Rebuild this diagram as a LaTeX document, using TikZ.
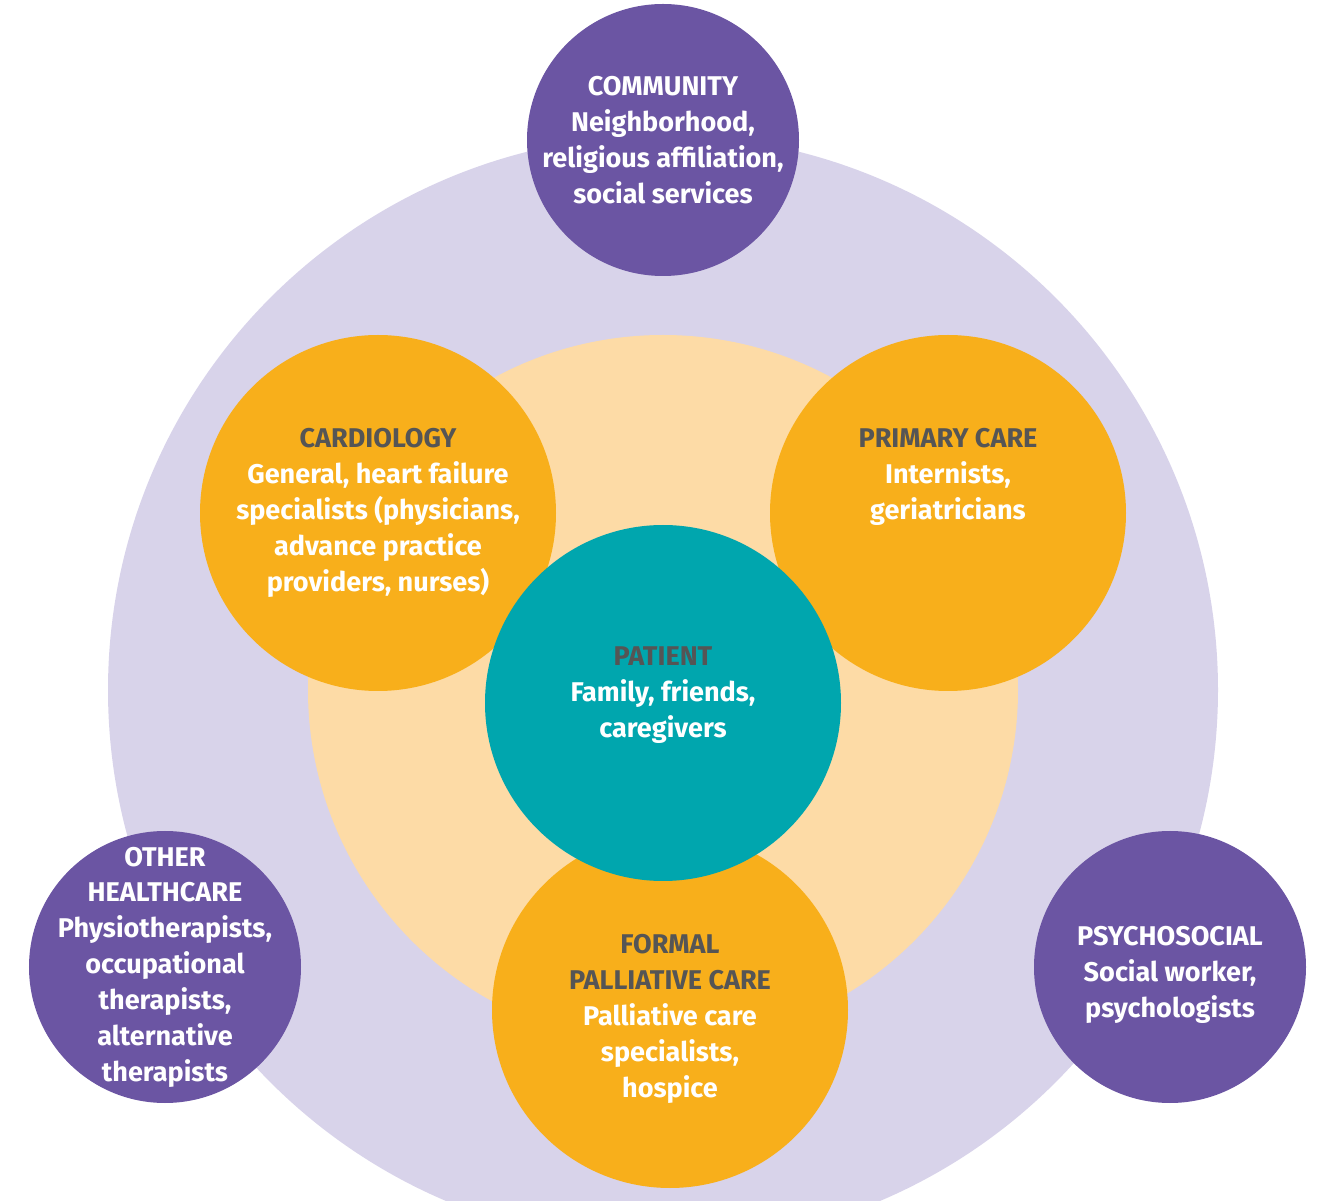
\documentclass[tikz,border=0pt]{standalone}
\usepackage{fontspec}
\setmainfont{Fira Sans}
\usetikzlibrary{positioning}
\definecolor{lavender}{HTML}{D8D3EA}
\definecolor{peach}{HTML}{FDDBA6}
\definecolor{amber}{HTML}{F8AF1B}
\definecolor{tealc}{HTML}{00A6AE}
\definecolor{violet}{HTML}{6B55A3}
\definecolor{darkgray}{HTML}{555555}
\tikzset{
  ring node/.style={circle,draw=none,inner sep=0pt},
  care node/.style={circle,fill=amber,minimum size=3.56cm,inner sep=0pt},
  outer node/.style={circle,fill=violet,minimum size=2.72cm,inner sep=0pt},
  label text/.style={align=center,text=white,inner sep=0pt,
    font=\fontsize{7.7}{10.2}\selectfont\bfseries},
  head/.style={text=darkgray}
}
\begin{document}
\begin{tikzpicture}
            \useasboundingbox (0,0) rectangle (13.27,12);
            \clip (0,0) rectangle (13.27,12);
            \node[ring node,fill=lavender,minimum size=11.1cm] (outer) at (6.63,5.1) {};
            \node[ring node,fill=peach,minimum size=7.1cm] (inner) at (6.63,5.1) {};
            \node[outer node] (community) at (6.63,10.6) {};
            \node[outer node] (other) at (1.65,2.33) {};
            \node[outer node] (psycho) at (11.7,2.33) {};
            \node[care node] (cardio) at (3.78,6.87) {};
            \node[care node] (primary) at (9.48,6.87) {};
            \node[care node] (palliative) at (6.7,1.9) {};
            \node[care node,fill=tealc] (patient) at (6.63,4.97) {};
            % texts
            \node[label text] at (community) {COMMUNITY\\Neighborhood,\\religious affiliation,\\social services};
            \node[label text] at (other) {OTHER\\HEALTHCARE\\Physiotherapists,\\occupational\\therapists,\\alternative\\therapists};
            \node[label text] at ([yshift=-0.08cm]psycho) {PSYCHOSOCIAL\\Social worker,\\psychologists};
            \node[label text] at (cardio) {{\color{darkgray}CARDIOLOGY}\\General, heart failure\\specialists (physicians,\\advance practice\\providers, nurses)};
            \node[label text] at ([yshift=0.36cm]primary) {{\color{darkgray}PRIMARY CARE}\\Internists,\\geriatricians};
            \node[label text] at ([yshift=-0.09cm]palliative) {{\color{darkgray}FORMAL}\\{\color{darkgray}PALLIATIVE CARE}\\Palliative care\\specialists,\\hospice};
            \node[label text] at ([yshift=0.08cm]patient) {{\color{darkgray}PATIENT}\\Family, friends,\\caregivers};
\end{tikzpicture}
\end{document}
